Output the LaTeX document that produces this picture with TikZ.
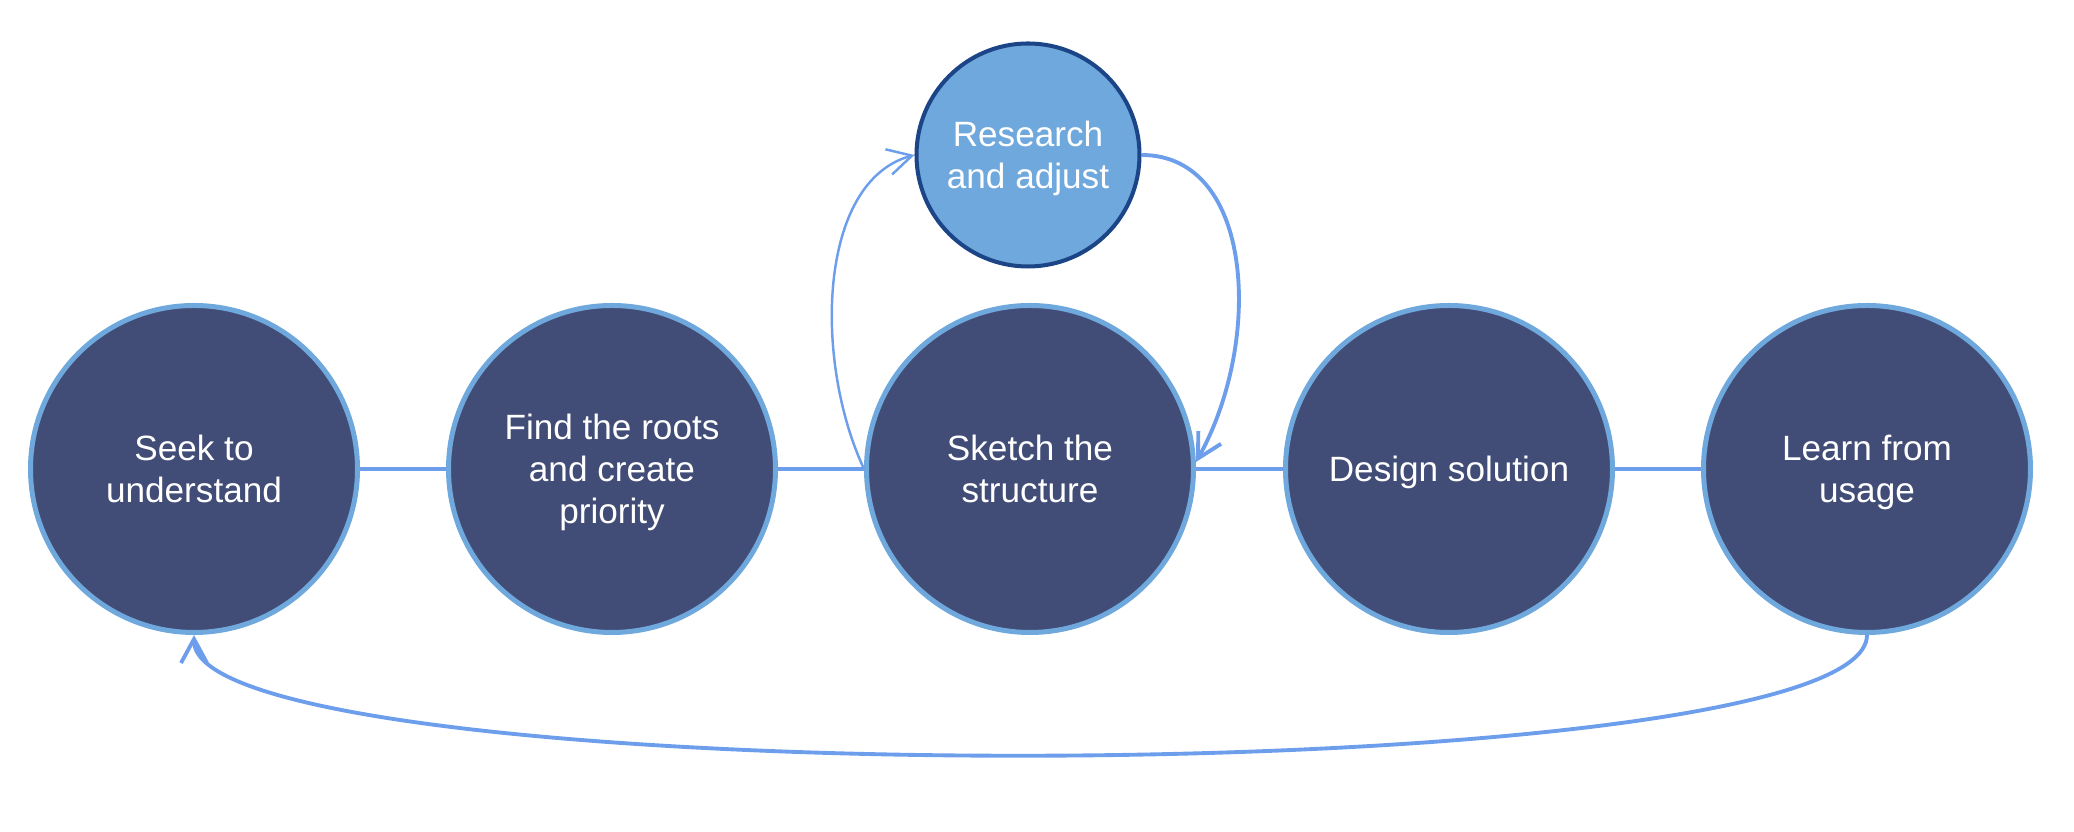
\documentclass[tikz,border=0pt]{standalone}
\usepackage{fontspec}
\setmainfont{Liberation Sans}
\usetikzlibrary{arrows.meta}
\definecolor{stagefill}{HTML}{424D77}
\definecolor{stageedge}{HTML}{6FA8DC}
\definecolor{linkblue}{HTML}{6D9EEB}
\definecolor{researchedge}{HTML}{1C4587}

\begin{document}
\begin{tikzpicture}[
        >={Straight Barb[length=2.4mm, width=2.6mm]},
        stage/.style={circle, draw=stageedge, line width=1.42pt, fill=stagefill,
            minimum size=3.27cm, inner sep=0pt, text=white, align=center,
            font=\fontsize{10}{12}\selectfont, text depth=0pt},
        sidestage/.style={stage, draw=researchedge, line width=1.15pt,
            fill=stageedge, minimum size=2.23cm},
        link/.style={draw=linkblue, line width=1.1pt}]

        % Canvas
        \useasboundingbox (0,0) rectangle (20.74,8.32);

        % Main stages
        \node[stage] (seek) at (1.94,3.63) {Seek to\\understand};
        \node[stage] (roots) at (6.12,3.63) {Find the roots\\and create\\priority};
        \node[stage] (sketch) at (10.30,3.63) {Sketch the\\structure};
        \node[stage] (design) at (14.49,3.63) {Design solution};
        \node[stage] (learn) at (18.67,3.63) {Learn from\\usage};

        % Side loop
        \node[sidestage] (research) at (10.28,6.77) {Research\\and adjust};

        % Links between stages
        \draw[link] (seek) -- (roots);
        \draw[link] (roots) -- (sketch);
        \draw[link] (sketch) -- (design);
        \draw[link] (design) -- (learn);

        % Out to research and back
        \draw[link, line width=0.7pt, ->] (sketch.west) .. controls +(115:1.2) and +(195:1.0) .. (research.west);
        \draw[link, ->] (research.east) .. controls +(1.13,0) and +(0.67,1.2) .. ([yshift=0.07cm]sketch.east);

        % Feedback loop
        \draw[link, ->] (learn.south) .. controls +(0,-1.6) and +(0,-1.6) .. (seek.south);
    \end{tikzpicture}
\end{document}
